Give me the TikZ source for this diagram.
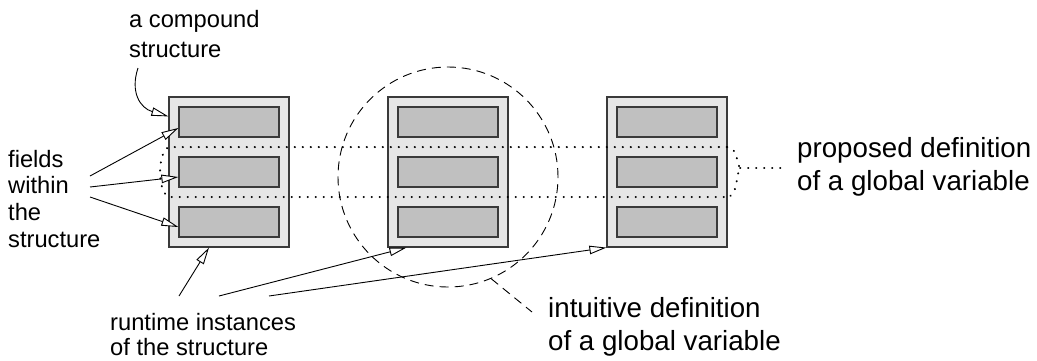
\documentclass[tikz,border=0pt]{standalone}
\usepackage{fontspec}
\setmainfont{Liberation Sans}
\usetikzlibrary{arrows.meta,calc}

\definecolor{boxfill}{HTML}{E6E6E6}
\definecolor{fieldfill}{HTML}{C0C0C0}
\definecolor{edgegray}{HTML}{3A3A3A}

\begin{document}
\begin{tikzpicture}[x=1pt,y=-1pt,
  record/.style={draw=edgegray, fill=boxfill, line width=1.2pt,
    minimum width=120pt, minimum height=150pt, inner sep=0pt},
  field/.style={draw=edgegray, fill=fieldfill, line width=1.2pt,
    minimum width=100pt, minimum height=30pt, inner sep=0pt},
  dotline/.style={line width=2pt, line cap=round, dash pattern=on 0.3pt off 7.7pt},
  dashline/.style={line width=0.9pt, dash pattern=on 9pt off 6pt},
  ptr/.style={line width=0.9pt, -{Triangle[length=17pt, width=8.5pt, fill=white]}},
  smalltxt/.style={font={\fontsize{23.7pt}{#1}\selectfont}, inner sep=0pt, anchor=base west},
  bigtxt/.style={font={\fontsize{27.7pt}{33.5pt}\selectfont}, inner sep=0pt, anchor=base west}]

\useasboundingbox (0,0) rectangle (1037,360);

% three runtime instances of the record, each with three fields
\foreach \i/\x in {1/229, 2/448, 3/667} {
  \node[record] (s\i) at (\x,172) {};
  \node[field] (s\i-f1) at (\x,122) {};
  \node[field] (s\i-f2) at (\x,172) {};
  \node[field] (s\i-f3) at (\x,222) {};
}

% dotted band around the middle field of every instance
\draw[dotline] (727,147) -- (169,147) .. controls (157,152) and (157,192) .. (169,197) -- (727,197);
\draw[dotline] (727,147) .. controls (738,148) and (736,162) .. (740,168)
               .. controls (736,174) and (738,196) .. (727,197);
\draw[dotline] (740,168) -- (784,168);

% dashed circle around one whole instance
\node[draw, circle, dashline, minimum size=220pt, inner sep=0pt] (cir) at (448,177) {};
\coordinate (intu-pt) at (532,312);
\draw[dashline] (cir.-67) -- (intu-pt);

% labels
\node[smalltxt=30pt] (cmp) at (129,27)
  {\begin{tabular}[t]{@{}l@{}}a compound\\structure\end{tabular}};
\node[smalltxt=26.7pt] (fld) at (8,167)
  {\begin{tabular}[t]{@{}l@{}}fields\\within\\the\\structure\end{tabular}};
\node[smalltxt=25.5pt] (rti) at (110,330)
  {\begin{tabular}[t]{@{}l@{}}runtime instances\\of the structure\end{tabular}};
\node[bigtxt] (itv) at (548,317)
  {\begin{tabular}[t]{@{}l@{}}intuitive definition\\of a global variable\end{tabular}};
\node[bigtxt] (prp) at (797,157)
  {\begin{tabular}[t]{@{}l@{}}proposed definition\\of a global variable\end{tabular}};

% pointer tails
\coordinate (cmp-tail) at (138,68);
\coordinate (fld-t1) at (90,176);
\coordinate (fld-t2) at (90,187);
\coordinate (fld-t3) at (90,197);
\coordinate (rti-t1) at (179,296);
\coordinate (rti-t2) at (219,296);
\coordinate (rti-t3) at (269,296);

% pointers
\draw[ptr] (cmp-tail) .. controls (130,92) and (140,108) .. ([yshift=-20pt]s1.north west);
\draw[ptr] (fld-t1) -- ([yshift=-6pt]s1-f1.west);
\draw[ptr] (fld-t2) -- ([yshift=-5pt]s1-f2.west);
\draw[ptr] (fld-t3) -- ([yshift=-5pt]s1-f3.west);
\draw[ptr] (rti-t1) -- ([xshift=-20pt]s1.south);
\draw[ptr] (rti-t2) -- ([xshift=19pt]s2.south west);
\draw[ptr] (rti-t3) -- (s3.south west);
\end{tikzpicture}
\end{document}
